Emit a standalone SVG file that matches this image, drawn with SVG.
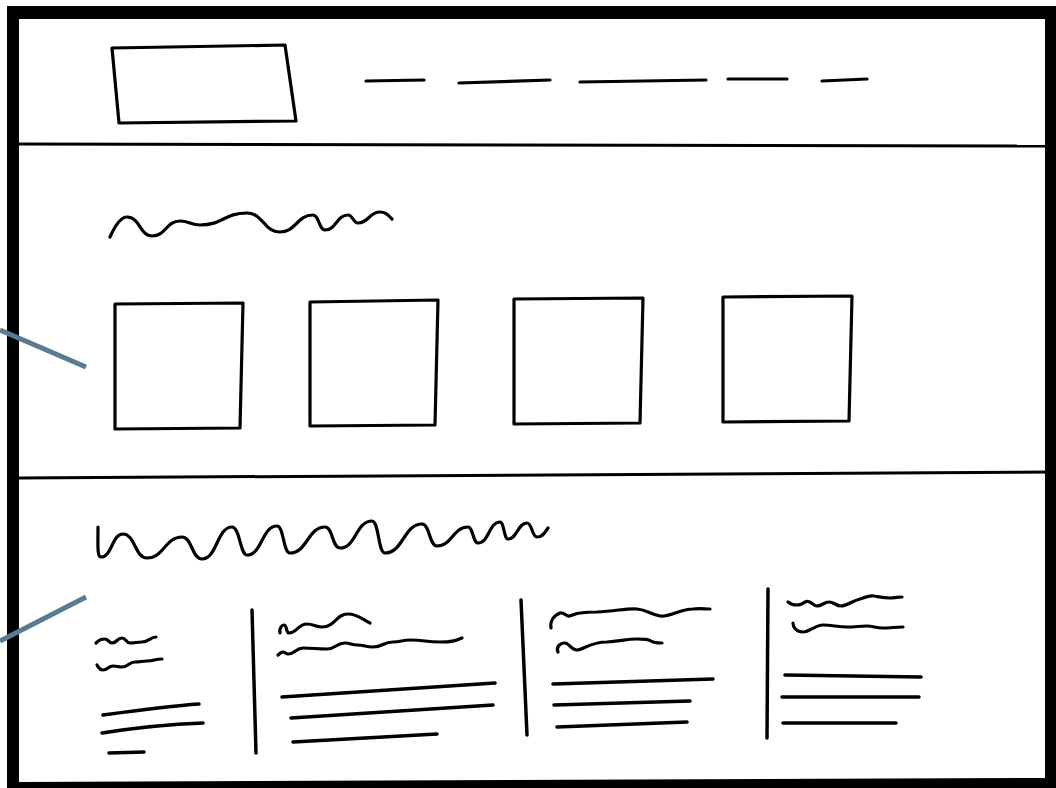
<svg xmlns="http://www.w3.org/2000/svg" width="1056" height="788" viewBox="0 0 1056 788">
<style>
.ink{fill:none;stroke:#000;stroke-width:3.2;stroke-linecap:round;stroke-linejoin:round}
.thick{stroke-width:3.5}
.div{fill:none;stroke:#000;stroke-width:3}
.ptr{fill:none;stroke:#597b91;stroke-width:5;stroke-linecap:butt}
</style>
<rect width="1056" height="788" fill="#fff"/>
<g id="frame">
<rect x="7" y="6" width="1049" height="782" fill="#000"/>
<polygon points="19,19 1045,19 1045,778 19,782" fill="#fff"/>
<path class="div" d="M19,144 L1052,146"/>
<path class="div" d="M19,478 L1052,472"/>
</g>
<g id="header">
<path id="logo" class="ink" d="M112,48 L285,45 L296,121 L119,123 Z"/>
<g id="nav">
<path class="ink" d="M366,81 L424,80"/>
<path class="ink" d="M459,83 L550,80"/>
<path class="ink" d="M580,82 L706,80"/>
<path class="ink" d="M728,79 L787,79"/>
<path class="ink" d="M822,81 L867,79"/>
</g>
</g>
<g id="section-cards">
<path id="cards-title" class="ink" d="M110,237 C114,228 120,217 127,217 C140,217 140,236 152,236 C166,236 166,221 180,221 C190,221 190,225 200,225 C223,225 224,213 247,213 C263,213 264,232 280,232 C296,232 297,215 313,215 C319,215 319,230 325,230 C336,230 337,215 348,215 C353,215 353,223 358,223 C369,223 369,212 380,212 C386,212 388,215 392,219"/>
<path id="card1" class="ink" d="M115,304 L243,303 L240,428 L115,429 Z"/>
<path id="card2" class="ink" d="M310,302 L438,300 L435,425 L310,426 Z"/>
<path id="card3" class="ink" d="M514,299 L643,298 L640,423 L514,424 Z"/>
<path id="card4" class="ink" d="M723,297 L852,296 L849,421 L723,422 Z"/>
</g>
<g id="section-features">
<path id="features-title" class="ink" d="M98,527 C98,545 97,557 101,557 C112,557 112,534 123,534 C135,534 135,558 147,558 C164,558 165,537 182,537 C192,537 192,559 202,559 C217,559 217,527 232,527 C240,527 240,555 247,555 C262,555 262,526 277,526 C284,526 283,553 290,553 C307,553 308,527 325,527 C333,527 332,548 340,548 C356,548 356,521 372,521 C379,521 378,553 385,553 C403,553 404,524 422,524 C430,524 429,546 437,546 C452,546 453,527 468,527 C473,527 473,543 478,543 C489,543 489,522 500,522 C504,522 504,539 508,539 C517,539 518,523 527,523 C532,523 532,537 537,537 C543,537 545,532 548,528"/>
<g id="col1">
<path class="ink" d="M96,643 C100,639 102,639 105,639 C108,639 109,643 112,643 C117,643 117,638 122,638 C126,638 126,643 130,643 C136,643 136,642 142,642 C149,642 150,637 156,637"/>
<path class="ink" d="M97,665 C99,669 101,670 103,670 C108,670 108,666 113,666 C118,666 117,667 122,667 C128,667 129,662 135,662 C141,662 141,661 147,661 C154,661 155,659 162,659"/>
<path class="ink thick" d="M103,715 C140,710 170,706 199,704"/>
<path class="ink thick" d="M102,733 C140,727 175,724 203,723"/>
<path class="ink thick" d="M109,753 L144,752"/>
</g>
<path id="sep1" class="ink thick" d="M252,610 L256,753"/>
<g id="col2">
<path class="ink" d="M280,633 C279,628 282,625 284,625 C287,625 286,633 289,633 C297,633 298,624 307,624 C314,624 315,627 322,627 C335,627 336,614 348,614 C357,614 362,619 370,623"/>
<path class="ink" d="M278,655 C280,653 281,652 283,652 C285,652 286,654 288,654 C295,654 296,648 303,648 C315,648 315,649 327,649 C336,649 336,643 345,643 C351,643 351,645 357,645 C365,645 365,647 373,647 C383,647 383,642 393,642 C401,642 402,640 410,640 C425,640 425,642 440,642 C451,642 455,641 462,638"/>
<path class="ink thick" d="M282,697 L495,683"/>
<path class="ink thick" d="M291,718 L493,705"/>
<path class="ink thick" d="M293,742 L437,734"/>
</g>
<path id="sep2" class="ink thick" d="M521,600 L527,735"/>
<g id="col3">
<path class="ink" d="M551,628 C550,622 553,616 560,613 C563,612 565,615 568,616 C571,617 575,613 580,613 C588,612 590,612 597,612 C617,611 627,608 637,609 C647,610 650,614 660,616 C670,617 680,609 693,609 C700,608 705,609 710,609"/>
<path class="ink" d="M558,652 C556,648 559,643 565,643 C569,643 571,650 577,650 C583,650 590,642 607,642 C620,641 628,639 637,639 C645,639 648,639 651,641 C654,643 658,643 662,643"/>
<path class="ink thick" d="M553,684 L713,679"/>
<path class="ink thick" d="M554,705 L690,701"/>
<path class="ink thick" d="M557,727 L687,722"/>
</g>
<path id="sep3" class="ink thick" d="M768,589 L767,738"/>
<g id="col4">
<path class="ink" d="M788,602 C793,606 800,606 805,602 C810,599 813,606 817,606 C822,606 824,602 829,602 C834,602 836,606 841,606 C847,606 852,601 860,599 C866,597 869,595 874,596 C880,597 884,598 890,598 C895,598 898,597 902,597"/>
<path class="ink" d="M793,623 C793,627 796,632 803,632 C810,632 815,625 823,625 C832,625 838,627 847,627 C855,627 860,626 867,626 C873,626 876,628 882,628 C890,628 896,627 903,627"/>
<path class="ink thick" d="M785,675 L921,677"/>
<path class="ink thick" d="M782,697 L919,697"/>
<path class="ink thick" d="M783,723 L896,723"/>
</g>
</g>
<g id="connectors">
<path class="ptr" d="M0,330 L86,367"/>
<path class="ptr" d="M0,641 L86,597"/>
</g>
</svg>
